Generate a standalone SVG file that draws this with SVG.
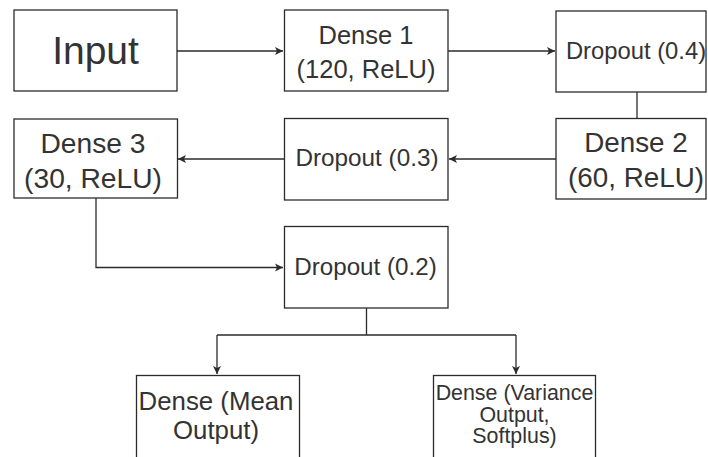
<svg xmlns="http://www.w3.org/2000/svg" width="708" height="457" viewBox="0 0 708 457">
<style>
.box{fill:#fff;stroke:#2b2b2b;stroke-width:1.3}
.t{font-family:"Liberation Sans",Arial,sans-serif;fill:#333;text-anchor:middle}
.c{fill:none;stroke:#2b2b2b;stroke-width:1.3}
</style>
<defs>
<marker id="a" markerWidth="10" markerHeight="10" refX="8" refY="5" orient="auto" markerUnits="userSpaceOnUse">
<path d="M0,1 L8,5 L0,9 L2,5 Z" fill="#2b2b2b"/>
</marker>
</defs>
<rect width="708" height="457" fill="#fff"/>
<g id="connectors">
<path class="c" d="M177,51 H283" marker-end="url(#a)"/>
<path class="c" d="M448,51 H555" marker-end="url(#a)"/>
<path class="c" d="M637,92 V118"/>
<path class="c" d="M556,159 H449" marker-end="url(#a)"/>
<path class="c" d="M284,159 H178" marker-end="url(#a)"/>
<path class="c" d="M96,198 V267.5 H283" marker-end="url(#a)"/>
<path class="c" d="M366.5,308 V335 M217,335 H516"/>
<path class="c" d="M217,335 V374" marker-end="url(#a)"/>
<path class="c" d="M516,335 V374" marker-end="url(#a)"/>
</g>
<g id="input">
<rect class="box" x="14" y="10" width="163" height="81"/>
<text class="t" x="95.5" y="64" font-size="39">Input</text>
</g>
<g id="dense1">
<rect class="box" x="284.5" y="10" width="163.5" height="81"/>
<text class="t" x="366" y="44" font-size="25.5">Dense 1</text>
<text class="t" x="366" y="78" font-size="25.5">(120, ReLU)</text>
</g>
<g id="dropout04">
<rect class="box" x="556" y="11" width="150" height="81"/>
<text class="t" x="636" y="58.5" font-size="23.8">Dropout (0.4)</text>
</g>
<g id="dense2">
<rect class="box" x="556" y="118.5" width="150" height="80.5"/>
<text class="t" x="636" y="151.7" font-size="27.8">Dense 2</text>
<text class="t" x="636" y="186.5" font-size="27.8">(60, ReLU)</text>
</g>
<g id="dropout03">
<rect class="box" x="284.5" y="118.5" width="163.5" height="81.5"/>
<text class="t" x="367" y="166.3" font-size="24.3">Dropout (0.3)</text>
</g>
<g id="dense3">
<rect class="box" x="14" y="119" width="163.5" height="79"/>
<text class="t" x="93" y="153.3" font-size="28.2">Dense 3</text>
<text class="t" x="93" y="187.7" font-size="28.2">(30, ReLU)</text>
</g>
<g id="dropout02">
<rect class="box" x="284.5" y="226.5" width="163.5" height="81.5"/>
<text class="t" x="365.5" y="275" font-size="24.2">Dropout (0.2)</text>
</g>
<g id="denseMean">
<rect class="box" x="136.5" y="375.5" width="163" height="85"/>
<text class="t" x="216" y="410" font-size="25.8">Dense (Mean</text>
<text class="t" x="216" y="439" font-size="25.8">Output)</text>
</g>
<g id="denseVariance">
<rect class="box" x="433.5" y="375.5" width="162" height="85"/>
<text class="t" x="514.5" y="400" font-size="21.4">Dense (Variance</text>
<text class="t" x="514.5" y="421.7" font-size="21.4">Output,</text>
<text class="t" x="514.5" y="443.3" font-size="21.4">Softplus)</text>
</g>
</svg>
